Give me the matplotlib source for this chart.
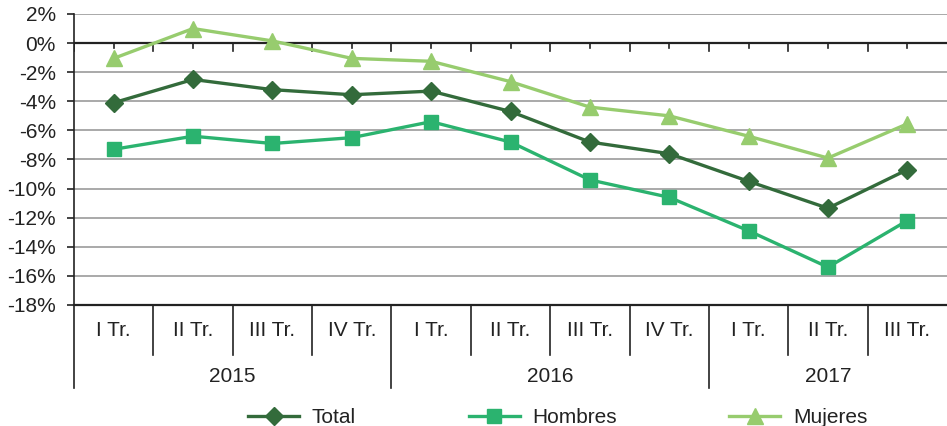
import numpy as np
import matplotlib
matplotlib.use("Agg")
import matplotlib.pyplot as plt

plt.rcParams['font.family'] = ['Liberation Sans', 'DejaVu Sans']

quarters = ['I Tr.', 'II Tr.', 'III Tr.', 'IV Tr.',
            'I Tr.', 'II Tr.', 'III Tr.', 'IV Tr.',
            'I Tr.', 'II Tr.', 'III Tr.']
years = ['2015', '2016', '2017']
quarters_per_year = [4, 4, 3]

total = [-4.1, -2.5, -3.2, -3.55, -3.3, -4.7, -6.8, -7.6, -9.5, -11.35, -8.7]
hombres = [-7.3, -6.4, -6.9, -6.5, -5.4, -6.8, -9.4, -10.6, -12.9, -15.4, -12.2]
mujeres = [-1.05, 1.0, 0.15, -1.05, -1.25, -2.65, -4.4, -5.0, -6.4, -7.9, -5.55]

c_total = '#336b3b'
c_hombres = '#2bb36f'
c_mujeres = '#97cc6e'
txt = '#222222'

fig = plt.figure(figsize=(9.47, 4.26), dpi=100)
ax = fig.add_axes([74 / 947, 1 - 305 / 426, 1 - 74 / 947, 291 / 426])

x = np.arange(len(quarters))
ax.set_xlim(-0.5, len(quarters) - 0.5)
ax.set_ylim(-18, 2)

# grid
for v in np.arange(-16, 3, 2):
    if v == 0:
        continue
    ax.axhline(v, color='#a3a3a3', lw=1.3, zorder=1)
ax.axhline(0, color='#222222', lw=1.6, zorder=2)

# small ticks below the zero line
for k in range(len(quarters)):
    ax.plot([k - 0.5, k - 0.5], [0, -0.55], color='#222222', lw=1.2, zorder=2)
    ax.plot([k, k], [0, -0.35], color='#222222', lw=1.2, zorder=2)

ax.plot(x, total, color=c_total, lw=2.4, marker='D', ms=9, label='Total', zorder=5)
ax.plot(x, hombres, color=c_hombres, lw=2.4, marker='s', ms=9.5, label='Hombres', zorder=4)
ax.plot(x, mujeres, color=c_mujeres, lw=2.4, marker='^', ms=11, label='Mujeres', zorder=3)

ax.set_yticks(np.arange(-18, 3, 2))
ax.set_yticklabels([f'{v}%' for v in range(-18, 3, 2)], fontsize=15, color=txt)
ax.tick_params(axis='y', direction='out', length=5, width=1.2, color='#222222', pad=8)
ax.set_xticks([])

for s in ['top', 'right']:
    ax.spines[s].set_visible(False)
ax.spines['left'].set_color('#222222')
ax.spines['left'].set_linewidth(1.2)
ax.spines['bottom'].set_color('#222222')
ax.spines['bottom'].set_linewidth(1.6)

# two-level category axis
tr = ax.get_xaxis_transform()
row1 = -50 / 291
row2 = -83 / 291
year_starts = np.cumsum([0] + quarters_per_year)
for k in range(len(quarters)):
    bottom = row2 if k in year_starts else row1
    ax.plot([k - 0.5, k - 0.5], [0, bottom], transform=tr, color='#222222',
            lw=1.2, clip_on=False)
for k, q in enumerate(quarters):
    ax.text(k, -26 / 291, q, transform=tr, ha='center', va='center',
            fontsize=15, color=txt)
for i, yr in enumerate(years):
    mid = (year_starts[i] + year_starts[i + 1] - 1) / 2
    ax.text(mid, -71 / 291, yr, transform=tr, ha='center', va='center',
            fontsize=15, color=txt)

fig.legend(loc='center', bbox_to_anchor=(0.589, 0.02), ncol=3, frameon=False,
           fontsize=15, handlelength=2.45, handletextpad=0.6, columnspacing=5.4,
           labelcolor=txt)

fig.savefig('out.png', dpi=100)
